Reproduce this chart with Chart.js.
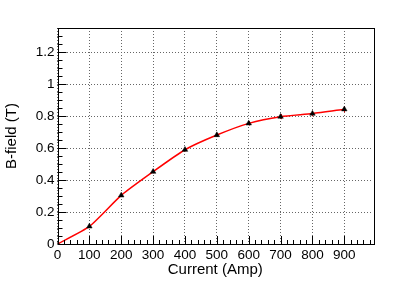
<!DOCTYPE html>
<html>
<head>
<meta charset="utf-8">
<script src="https://cdn.jsdelivr.net/npm/chart.js@4"></script>
<style>
html,body{margin:0;padding:0;background:#fff;}
#wrap{width:415px;height:281px;}
</style>
</head>
<body>
<div id="wrap"><canvas id="c" width="415" height="281"></canvas></div>
<script>
// ---- data ----
const current = [0, 100, 200, 300, 400, 500, 600, 700, 800, 900];
const bField  = [0, 0.110, 0.304, 0.452, 0.589, 0.681, 0.754, 0.796, 0.815, 0.842];
const bErr    = [0.003, 0.008, 0.010, 0.010, 0.010, 0.012, 0.014, 0.016, 0.017, 0.019];
const xTicks  = [0, 100, 200, 300, 400, 500, 600, 700, 800, 900];
const yTicks  = [0, 0.2, 0.4, 0.6, 0.8, 1, 1.2];
const xMinorStep = 20;
const yMinorStep = 0.05;
const xTitle = 'Current (Amp)';
const yTitle = 'B-field (T)';

const FONT = "'Liberation Sans', Arial, Helvetica, sans-serif";

const rootFrame = {
  id: 'rootFrame',
  beforeDatasetsDraw(chart) {
    const ctx = chart.ctx;
    const xs = chart.scales.x, ys = chart.scales.y;
    const ds = chart.data.datasets[0];
    ctx.save();
    ctx.strokeStyle = '#ff0000';
    ctx.lineWidth = 1;
    ds.data.forEach((p, i) => {
      const px = xs.getPixelForValue(p.x);
      const y1 = ys.getPixelForValue(p.y - bErr[i]);
      const y2 = ys.getPixelForValue(p.y + bErr[i]);
      ctx.beginPath();
      ctx.moveTo(Math.round(px) + 0.5, y1);
      ctx.lineTo(Math.round(px) + 0.5, y2);
      ctx.stroke();
    });
    ctx.restore();
  },
  afterDraw(chart) {
    const ctx = chart.ctx;
    const a = chart.chartArea;
    const xs = chart.scales.x, ys = chart.scales.y;
    ctx.save();
    ctx.strokeStyle = '#000';
    ctx.lineWidth = 1;
    ctx.beginPath();
    for (let v = xs.min; v <= xs.max + 1e-9; v += xMinorStep) {
      const px = Math.round(xs.getPixelForValue(v)) + 0.5;
      const major = Math.abs(v % 100) < 1e-6;
      const len = major ? 8 : 4;
      ctx.moveTo(px, a.bottom);
      ctx.lineTo(px, a.bottom - len);
    }
    for (let k = 0; ; k++) {
      const v = k * yMinorStep;
      if (v > ys.max + 1e-9) break;
      const py = Math.round(ys.getPixelForValue(v)) + 0.5;
      const major = (k % 4) === 0;
      const len = major ? 9 : 5;
      ctx.moveTo(a.left, py);
      ctx.lineTo(a.left + len, py);
    }
    ctx.stroke();
    ctx.strokeRect(Math.round(a.left) + 0.5, Math.round(a.top) + 0.5,
                   Math.round(a.right - a.left), Math.round(a.bottom - a.top));
    ctx.restore();
  }
};

new Chart(document.getElementById('c'), {
  type: 'scatter',
  data: {
    datasets: [{
      data: current.map((x, i) => ({x: x, y: bField[i]})),
      showLine: true,
      borderColor: '#ff0000',
      borderWidth: 1.5,
      tension: 0.2,
      pointStyle: 'triangle',
      pointRadius: 3.2,
      pointBackgroundColor: '#000',
      pointBorderColor: '#000',
      pointBorderWidth: 0.5
    }]
  },
  options: {
    responsive: false,
    animation: false,
    devicePixelRatio: 1,
    layout: { padding: { top: 28, right: 42, left: 0, bottom: 0 } },
    plugins: { legend: { display: false }, tooltip: { enabled: false } },
    scales: {
      x: {
        type: 'linear', min: 0, max: 990,
        afterFit(s) { s.height = 37; },
        afterBuildTicks(s) { s.ticks = xTicks.map(v => ({value: v})); },
        ticks: { includeBounds: false, color: '#000', padding: 3, maxRotation: 0, autoSkip: false,
                 font: { family: FONT, size: 13.5 },
                 callback: v => String(v) },
        grid: { color: '#666', lineWidth: 1, drawTicks: false },
        border: { display: false, dash: [1, 2] },
        title: { display: true, text: xTitle, color: '#000', padding: { top: 0, bottom: 2 },
                 font: { family: FONT, size: 15 } }
      },
      y: {
        type: 'linear', min: 0, max: 1.35,
        afterFit(s) { s.width = 57.5; },
        afterBuildTicks(s) { s.ticks = yTicks.map(v => ({value: v})); },
        ticks: { includeBounds: false, color: '#000', padding: 3, autoSkip: false,
                 font: { family: FONT, size: 13.5 },
                 callback: v => String(Math.round(v * 100) / 100) },
        grid: { color: '#666', lineWidth: 1, drawTicks: false },
        border: { display: false, dash: [1, 2] },
        title: { display: true, text: yTitle, color: '#000', padding: { top: 3, bottom: 0 },
                 font: { family: FONT, size: 15 } }
      }
    }
  },
  plugins: [rootFrame]
});
</script>
</body>
</html>
